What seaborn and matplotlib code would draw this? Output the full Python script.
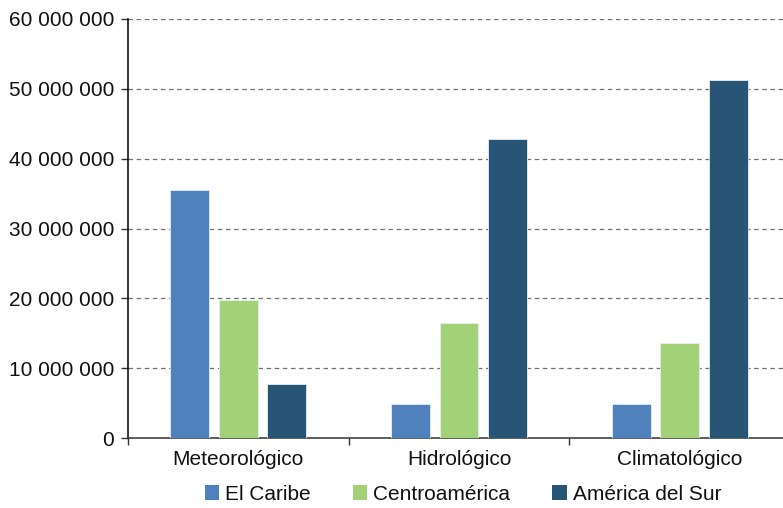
import matplotlib
matplotlib.use("Agg")
import matplotlib.pyplot as plt
from matplotlib.ticker import FuncFormatter, FixedLocator
from matplotlib.patches import Patch
import pandas as pd
import seaborn as sns

# Population affected by type of disaster and region
categories = ["Meteorológico", "Hidrológico", "Climatológico"]
regions = ["El Caribe", "Centroamérica", "América del Sur"]
el_caribe = [35_500_000, 4_850_000, 4_850_000]
centroamerica = [19_800_000, 16_500_000, 13_600_000]
america_del_sur = [7_700_000, 42_800_000, 51_300_000]
y_ticks = [0, 10_000_000, 20_000_000, 30_000_000, 40_000_000, 50_000_000, 60_000_000]
colors = ["#4F81BD", "#A3D178", "#285475"]

rows = []
for region, values in zip(regions, [el_caribe, centroamerica, america_del_sur]):
    for cat, v in zip(categories, values):
        rows.append({"Tipo": cat, "Región": region, "Personas": v})
df = pd.DataFrame(rows)

sns.set_theme(style="white")
plt.rcParams["font.family"] = ["Liberation Sans", "DejaVu Sans"]

fig = plt.figure(figsize=(7.83, 5.08), dpi=100)
ax = fig.add_axes([128 / 783, 1 - 438 / 508, (790 - 128) / 783, 419 / 508])

sns.barplot(data=df, x="Tipo", y="Personas", hue="Región", order=categories,
            hue_order=regions, palette=colors, width=0.66, gap=0.2,
            errorbar=None, edgecolor="#e8eef4", linewidth=0.6, saturation=1,
            legend=False, ax=ax, zorder=3)

ax.set_xlim(-0.5, 2.5)
ax.set_ylim(0, 60_000_000)
ax.yaxis.set_major_locator(FixedLocator(y_ticks))
ax.yaxis.set_major_formatter(FuncFormatter(lambda v, p: f"{int(v):,}".replace(",", " ")))
ax.set_xlabel("")
ax.set_ylabel("")

ax.grid(axis="y", color="#707070", linestyle=(0, (3.6, 2.9)), linewidth=0.9, zorder=0)
ax.set_axisbelow(True)

for side in ["top", "right"]:
    ax.spines[side].set_visible(False)
ax.spines["left"].set_color("#000000")
ax.spines["left"].set_linewidth(1.1)
ax.spines["bottom"].set_color("#333333")
ax.spines["bottom"].set_linewidth(1.1)

ax.tick_params(axis="y", which="major", direction="out", length=5, width=1,
               color="#333333", pad=5, labelsize=15, labelcolor="#111111", left=True)
ax.tick_params(axis="x", which="major", length=0, pad=8.5, labelsize=15, labelcolor="#111111")
ax.xaxis.set_minor_locator(FixedLocator([-0.5, 0.5, 1.5, 2.5]))
ax.tick_params(axis="x", which="minor", direction="out", length=5, width=1,
               color="#333333", bottom=True)

handles = [Patch(facecolor=c, edgecolor="none") for c in colors]
fig.legend(handles, regions, loc="center", bbox_to_anchor=(463 / 783, 1 - 494 / 508),
           ncol=3, frameon=False, fontsize=15, handlelength=0.7, handleheight=0.7,
           handletextpad=0.3, columnspacing=2.0, labelcolor="#111111")

fig.savefig("out.png", dpi=100)
